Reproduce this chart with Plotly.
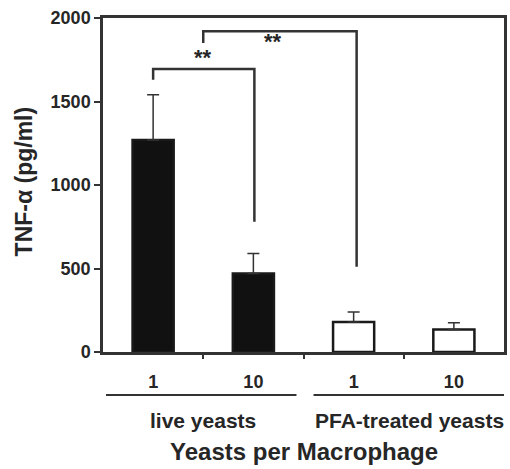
"""
TNF-alpha secretion by macrophages: live vs PFA-treated yeasts
"""

import plotly.graph_objects as go

# Data
dose_labels = ['1', '10', '1', '10']
tnf_values = [1270, 470, 180, 135]
tnf_errors = [270, 120, 60, 40]
bar_colors = ['#111111', '#111111', '#ffffff', '#ffffff']

group_names = ['live yeasts', 'PFA-treated yeasts']

# significance brackets: x points and y points in data units
bracket1_x = [0, 0, 1.01, 1.01]
bracket1_y = [1630, 1695, 1695, 780]
bracket2_x = [0.5, 0.5, 2.03, 2.03]
bracket2_y = [1850, 1920, 1920, 510]

TXT = '#262626'
LINE = '#333333'
FONT = 'Liberation Sans, Arial, sans-serif'

x_pos = list(range(len(dose_labels)))

fig = go.Figure()

fig.add_trace(go.Bar(
    x=x_pos,
    y=tnf_values,
    width=0.41,
    marker=dict(color=bar_colors, line=dict(color='#1a1a1a', width=2.5)),
    error_y=dict(
        type='data', symmetric=False,
        array=tnf_errors, arrayminus=[0] * len(tnf_errors),
        color=LINE, thickness=1.5, width=6
    ),
    showlegend=False,
))

# Brackets de significância
for bx, by in [(bracket1_x, bracket1_y), (bracket2_x, bracket2_y)]:
    fig.add_trace(go.Scatter(
        x=bx, y=by, mode='lines',
        line=dict(color=LINE, width=2.5),
        showlegend=False, hoverinfo='skip'
    ))

fig.add_annotation(x=0.5, y=1765, text='**', showarrow=False,
                   font=dict(family=FONT, size=22, color=TXT, weight='bold'))
fig.add_annotation(x=1.2, y=1860, text='**', showarrow=False,
                   font=dict(family=FONT, size=22, color=TXT, weight='bold'))

# Linhas e rótulos dos grupos
fig.add_shape(type='line', xref='x', yref='paper', x0=-0.47, x1=1.43, y0=-0.129, y1=-0.129,
              line=dict(color=LINE, width=2))
fig.add_shape(type='line', xref='x', yref='paper', x0=1.6, x1=3.5, y0=-0.129, y1=-0.129,
              line=dict(color=LINE, width=2))
fig.add_annotation(x=0.5, y=-0.204, xref='x', yref='paper', text=group_names[0],
                   showarrow=False, yanchor='middle',
                   font=dict(family=FONT, size=21, color=TXT, weight='bold'))
fig.add_annotation(x=2.56, y=-0.204, xref='x', yref='paper', text=group_names[1],
                   showarrow=False, yanchor='middle',
                   font=dict(family=FONT, size=21, color=TXT, weight='bold'))
fig.add_annotation(x=0.5, y=-0.299, xref='paper', yref='paper', text='Yeasts per Macrophage',
                   showarrow=False, yanchor='middle',
                   font=dict(family=FONT, size=24, color=TXT, weight='bold'))
fig.add_annotation(x=-0.196, y=0.512, xref='paper', yref='paper', text='TNF-α (pg/ml)',
                   showarrow=False, textangle=-90, xanchor='center', yanchor='middle',
                   font=dict(family=FONT, size=23, color=TXT, weight='bold'))

fig.update_layout(
    width=510, height=469,
    margin=dict(l=103, r=3, t=18, b=117),
    paper_bgcolor='white', plot_bgcolor='white',
    font=dict(family=FONT, color=TXT),
    xaxis=dict(
        range=[-0.5, 3.5], tickvals=x_pos, ticktext=dose_labels,
        ticks='', showgrid=False, zeroline=False,
        showline=True, mirror=True, linecolor=LINE, linewidth=2.5,
        tickfont=dict(family=FONT, size=18, color=TXT, weight='bold'),
        ticklabelstandoff=12,
    ),
    xaxis2=dict(
        overlaying='x', anchor='y', side='bottom', range=[-0.5, 3.5],
        tickvals=[0.5, 1.5, 2.5], showticklabels=False,
        ticks='outside', ticklen=6, tickwidth=1.5, tickcolor=LINE,
        showgrid=False, zeroline=False, showline=False,
    ),
    yaxis=dict(
        range=[0, 2000], tickvals=[0, 500, 1000, 1500, 2000],
        ticks='outside', ticklen=6, tickwidth=1.5, tickcolor=LINE,
        showgrid=False, zeroline=False,
        showline=True, mirror=True, linecolor=LINE, linewidth=2.5,
        tickfont=dict(family=FONT, size=18, color=TXT, weight='bold'),
    ),
)

# dummy trace so xaxis2 is drawn
fig.add_trace(go.Scatter(x=[None], y=[None], xaxis='x2', showlegend=False, hoverinfo='skip'))

# remove default page margin so the figure sits at the window corner
fig.write_html("out.html", config={'displayModeBar': False},
               post_script="document.body.style.margin='0';")
